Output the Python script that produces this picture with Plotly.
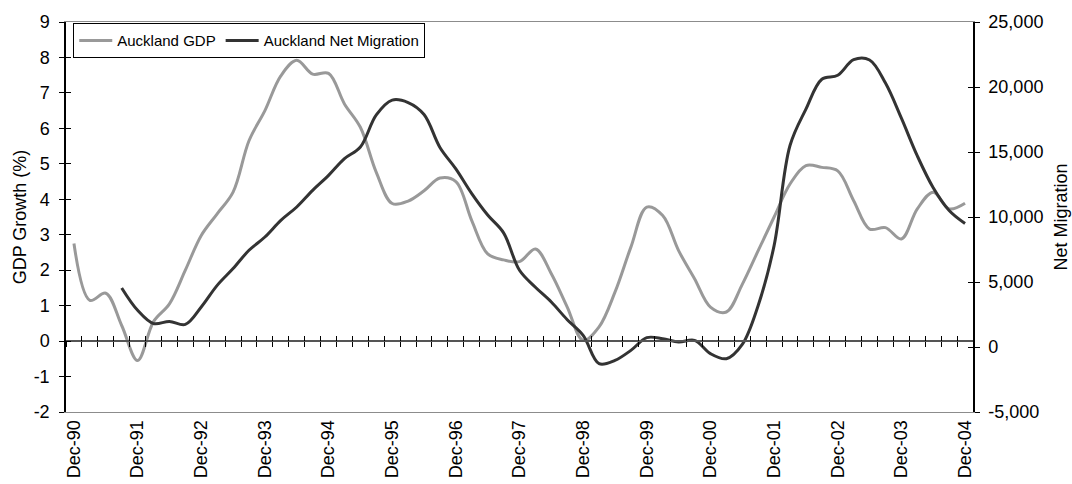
import pandas as pd
import plotly.graph_objects as go

# Quarterly periods, Dec-90 through Dec-04
quarters = [p.strftime("%b-%y") for p in pd.period_range("1990Q4", "2004Q4", freq="Q-DEC").to_timestamp(how="end")]
year_labels = ["Dec-90", "Dec-91", "Dec-92", "Dec-93", "Dec-94", "Dec-95", "Dec-96", "Dec-97",
               "Dec-98", "Dec-99", "Dec-00", "Dec-01", "Dec-02", "Dec-03", "Dec-04"]

# Left axis ticks (GDP growth, %) and right axis ticks (net migration)
gdp_ticks = [-2, -1, 0, 1, 2, 3, 4, 5, 6, 7, 8, 9]
gdp_tick_text = ["-2", "-1", "0", "1", "2", "3", "4", "5", "6", "7", "8", "9"]
mig_ticks = [-5000, 0, 5000, 10000, 15000, 20000, 25000]
mig_tick_text = ["-5,000", "0", "5,000", "10,000", "15,000", "20,000", "25,000"]

# Auckland GDP growth (%)
gdp_growth = [2.75, 1.15, 1.35, 0.44, -0.55, 0.55, 1.05, 2.0, 2.98, 3.59,
              4.2, 5.65, 6.5, 7.48, 7.92, 7.53, 7.55, 6.69, 6.03, 4.76,
              3.88, 3.95, 4.24, 4.6, 4.5, 3.4, 2.46, 2.29, 2.24, 2.6,
              1.9, 0.96, 0.02, 0.4, 1.38, 2.65, 3.78, 3.54, 2.55, 1.76,
              0.96, 0.82, 1.6, 2.55, 3.5, 4.43, 4.95, 4.9, 4.8, 3.96,
              3.16, 3.2, 2.88, 3.73, 4.2, 3.73, 3.89]

# Auckland net migration (persons, annual)
net_migration = [None, None, None, 4540, 2820, 1800, 1970, 1740, 3080, 4740,
                 6030, 7440, 8460, 9740, 10770, 12050, 13200, 14490, 15380, 17850,
                 18990, 18800, 17880, 15350, 13700, 11800, 10150, 8780, 5900, 4600,
                 3460, 2100, 900, -1280, -1030, -260, 720, 640, 385, 510,
                 -510, -900, 200, 3200, 7800, 15500, 18300, 20600, 20900, 22100,
                 22080, 20300, 17600, 14700, 12250, 10500, 9500]

FONT = "Liberation Sans, Arial, sans-serif"
n = len(quarters)
xr = [-0.5, n - 0.5]
gdp_range = [gdp_ticks[0], gdp_ticks[-1]]
mig_range = [mig_ticks[0], mig_ticks[-1]]
zero_pos = -gdp_range[0] / (gdp_range[1] - gdp_range[0])

fig = go.Figure()
fig.add_trace(go.Scatter(
    x=quarters, y=gdp_growth, name="Auckland GDP", mode="lines",
    line=dict(color="#999999", width=3, shape="spline", smoothing=1.0),
    xaxis="x", yaxis="y"))
fig.add_trace(go.Scatter(
    x=quarters, y=net_migration, name="Auckland Net Migration", mode="lines",
    line=dict(color="#333333", width=3, shape="spline", smoothing=1.0),
    connectgaps=False, xaxis="x", yaxis="y2"))

# empty traces so the decoration axes (zero-crossing x axis, crossing ticks) get drawn
for xa, ya in [("x2", "y"), ("x3", "y"), ("x", "y3"), ("x", "y4")]:
    fig.add_trace(go.Scatter(x=[], y=[], xaxis=xa, yaxis=ya, showlegend=False,
                             hoverinfo="skip", mode="lines"))

tickfont = dict(family=FONT, size=18, color="#000000")
titlefont = dict(family=FONT, size=18, color="#000000")

fig.update_layout(
    width=1072, height=484,
    margin=dict(l=66, r=99, t=22, b=72, pad=0),
    paper_bgcolor="white", plot_bgcolor="white",
    font=dict(family=FONT, size=17, color="#000000"),
    showlegend=True,
    legend=dict(
        orientation="h", x=0.008, y=0.997, xanchor="left", yanchor="top",
        bgcolor="white", bordercolor="#000000", borderwidth=1,
        font=dict(family=FONT, size=15, color="#000000"),
        itemwidth=33, tracegroupgap=0,
    ),
    # category axis: labels at the bottom, grey frame top and bottom
    xaxis=dict(
        type="category", categoryorder="array", categoryarray=quarters,
        range=xr, tickmode="array", tickvals=year_labels, ticktext=year_labels,
        tickangle=-90, ticks="", showgrid=False, zeroline=False, automargin=False,
        showline=True, linecolor="#8c8c8c", linewidth=1, mirror=True,
        tickfont=tickfont, ticklabelstandoff=0,
    ),
    # horizontal axis line crossing at zero, with crossing tick marks
    xaxis2=dict(
        type="linear", overlaying="x", anchor="free", position=zero_pos,
        range=xr, tick0=0.5, dtick=1, ticks="outside", ticklen=5,
        tickcolor="#000000", tickwidth=1, showticklabels=False, automargin=False,
        showline=True, linecolor="#555555", linewidth=1.5,
        showgrid=False, zeroline=False,
    ),
    xaxis3=dict(
        type="linear", overlaying="x", anchor="free", position=zero_pos,
        range=xr, tick0=0.5, dtick=1, ticks="inside", ticklen=5,
        tickcolor="#000000", tickwidth=1, showticklabels=False, automargin=False,
        showline=False, showgrid=False, zeroline=False,
    ),
    yaxis=dict(
        range=gdp_range, tickmode="array", tickvals=gdp_ticks, ticktext=gdp_tick_text,
        side="left", anchor="x",
        showline=True, linecolor="#000000", linewidth=1.5, automargin=False,
        ticks="outside", ticklen=5, tickcolor="#000000",
        showgrid=False, zeroline=False, tickfont=tickfont, ticklabelstandoff=6,
        title=dict(text="GDP Growth (%)", font=titlefont, standoff=2),
    ),
    yaxis2=dict(
        range=mig_range, tickmode="array", tickvals=mig_ticks, ticktext=mig_tick_text,
        side="right", overlaying="y", anchor="x",
        showline=True, linecolor="#000000", linewidth=1.5, automargin=False,
        ticks="outside", ticklen=5, tickcolor="#000000",
        showgrid=False, zeroline=False, tickfont=tickfont, ticklabelstandoff=5,
        title=dict(text="Net Migration", font=titlefont, standoff=12),
    ),
    yaxis3=dict(
        range=gdp_range, tickmode="array", tickvals=gdp_ticks, side="left",
        overlaying="y", anchor="x",
        ticks="inside", ticklen=5, tickcolor="#000000", showticklabels=False,
        showline=False, showgrid=False, zeroline=False, automargin=False,
    ),
    yaxis4=dict(
        range=mig_range, tickmode="array", tickvals=mig_ticks, side="right",
        overlaying="y", anchor="x",
        ticks="inside", ticklen=5, tickcolor="#000000", showticklabels=False,
        showline=False, showgrid=False, zeroline=False, automargin=False,
    ),
)

fig.write_html("out.html")
